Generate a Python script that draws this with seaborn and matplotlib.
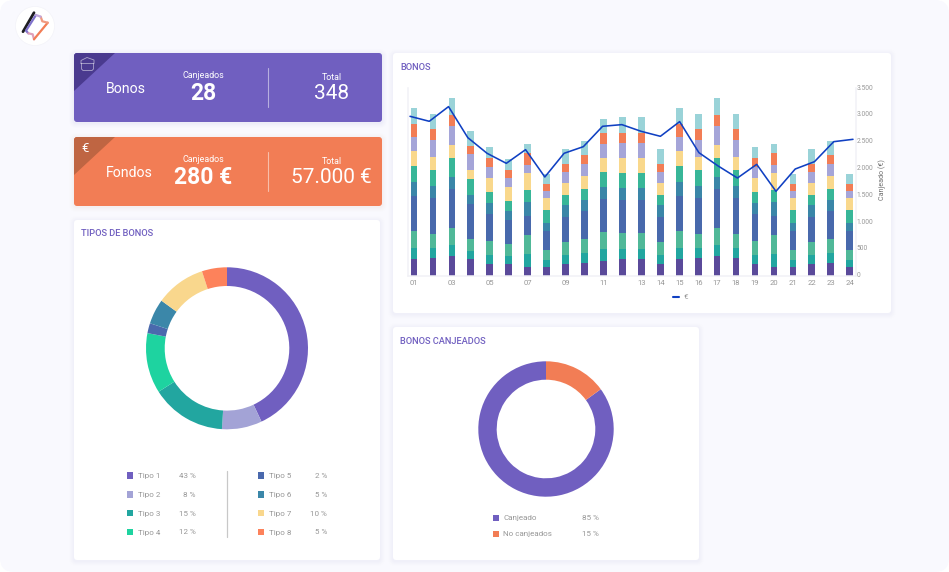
import matplotlib
matplotlib.use("Agg")
import matplotlib.pyplot as plt
from matplotlib.patches import FancyBboxPatch, Polygon, Rectangle, Circle
from matplotlib.transforms import ScaledTranslation
import pandas as pd
import seaborn as sns

sns.set_theme(style="white")
plt.rcParams["font.family"] = ["Roboto", "DejaVu Sans"]

W, H = 949, 572

# Stacked bar series, bottom to top
days = list(range(1, 25))
serie_a = [311,330,374,311,224,212,168,162,218,243,280,305,305,218,311,330,374,330,224,168,162,218,243,162]
serie_b = [212,181,206,150,168,156,237,131,168,174,218,193,193,168,212,181,206,181,168,237,131,168,174,131]
serie_c = [311,268,318,224,255,224,361,187,243,268,324,299,299,243,311,268,318,268,255,361,187,243,268,187]
serie_d = [648,679,716,654,505,449,349,349,461,530,610,617,617,461,648,679,716,679,505,349,349,461,530,349]
serie_e = [268,206,218,168,206,168,262,162,224,193,224,224,224,224,268,206,218,206,206,262,162,224,193,162]
serie_f = [299,311,368,299,206,187,224,237,193,218,274,280,280,193,299,311,368,311,206,224,237,193,218,237]
serie_g = [268,243,243,168,262,262,318,212,224,237,268,274,274,224,268,243,243,243,262,318,212,224,237,212]
serie_h = [274,311,349,293,206,168,137,143,199,212,262,274,274,199,274,311,349,311,206,137,143,199,212,143]
serie_i = [243,212,206,143,168,150,237,118,156,181,206,193,193,156,243,212,206,212,168,237,118,156,181,118]
serie_j = [293,280,324,293,199,199,156,193,280,255,262,299,299,280,293,280,324,280,199,156,193,280,255,193]
euros = [2973,2880,3154,2575,2283,2096,2351,1841,2283,2407,2787,2818,2693,2600,2874,2295,2046,1822,2077,1574,1990,2127,2500,2544]

x_tick_days = [1,3,5,7,9,11,13,14,15,16,17,18,19,20,21,22,23,24]
x_tick_labels = ["01","03","05","07","09","11","13","14","15","16","17","18","19","20","21","22","23","24"]
y_ticks = [0,500,1000,1500,2000,2500,3000,3500]
y_tick_labels = ["0","500","1.000","1.500","2.000","2.500","3.000","3.500"]

bar_colors = ["#5a4a9a","#22a6a0","#50b898","#4869ac","#3a86a8","#38b698","#f9d88c","#a5a5d8","#f27d55","#9ad3d8"]

tipo_names = ["Tipo 1","Tipo 2","Tipo 3","Tipo 4","Tipo 5","Tipo 6","Tipo 7","Tipo 8"]
tipo_shares = [43,8,15,12,2,5,10,5]
tipo_colors = ["#705fc0","#a3a3d6","#22a6a0","#1ed3a0","#4a69ad","#3b87a9","#f9d78d","#fd825b"]

canje_names = ["Canjeado","No canjeados"]
canje_shares = [85,15]
canje_colors = ["#705fc0","#f27d55"]

PURPLE = "#705fc0"
ORANGE = "#f27d55"
GREY = "#979797"

fig = plt.figure(figsize=(W/100, H/100), dpi=100, facecolor="white")


def px_axes(x0, y0, x1, y1, **kw):
    """Axes placed by pixel box, with y measured from the top edge."""
    return fig.add_axes([x0/W, 1-y1/H, (x1-x0)/W, (y1-y0)/H], **kw)


# Page layer in pixel coordinates
page = fig.add_axes([0, 0, 1, 1])
page.set_xlim(0, W)
page.set_ylim(H, 0)
page.axis("off")
page.add_patch(FancyBboxPatch((0, 0), W, H, boxstyle="round,pad=0,rounding_size=14",
                              fc="#f9f9fe", ec="none"))


def card(x0, y0, x1, y1, color="white", shadow="#9a9ad0"):
    for grow, a in [(5, .008), (4, .01), (3, .012), (2, .016), (1, .02)]:
        page.add_patch(FancyBboxPatch((x0-grow, y0-grow+1), x1-x0+2*grow, y1-y0+2*grow,
                                      boxstyle=f"round,pad=0,rounding_size={3+grow}",
                                      fc=shadow, ec="none", alpha=a))
    p = FancyBboxPatch((x0, y0), x1-x0, y1-y0, boxstyle="round,pad=0,rounding_size=3",
                       fc=color, ec="none")
    page.add_patch(p)
    return p


def text(x, y, s, size, color="white", ha="left", weight="normal", **kw):
    page.text(x, y, s, fontsize=size, color=color, ha=ha, va="center_baseline", fontweight=weight, **kw)


# Summary cards
for top, col, dark, name, used, total in [
        (53, PURPLE, "#4a3a8f", "Bonos", "28", "348"),
        (137, ORANGE, "#bf6542", "Fondos", "280 €", "57.000 €")]:
    box = card(74, top, 382, top+69, col, shadow=col)
    tri = Polygon([(74, top), (115, top), (74, top+38)], closed=True, fc=dark, ec="none")
    page.add_patch(tri)
    tri.set_clip_path(box)
    text(105.5, top+34.3, name, 10.2)
    text(203.5, top+21, "Canjeados", 6.4, ha="center")
    text(203.5, top+37.8, used, 16.5, ha="center", weight="bold")
    text(331.5, top+23, "Total", 6.4, ha="center")
    text(331.5, top+38.3, total, 15, ha="center")
    page.plot([268, 268], [top+15, top+54], color="white", alpha=.5, lw=.8)

# Corner glyphs of the summary cards
page.plot([81, 81, 87, 94, 94, 81], [63.5, 60.5, 57.5, 60, 63.5, 63.5], color="white", alpha=.55, lw=.6)
page.plot([81.5, 81.5, 83, 92, 93.5, 93.5], [63.5, 69, 70.5, 70.5, 69, 63.5], color="white", alpha=.55, lw=.6)
text(85.5, 147, "€", 9.5, ha="center")

# Brand mark
page.add_patch(Circle((35, 26), 19.5, fc="white", ec="#f1f1f8", lw=.4))
page.plot([23, 34], [31.7, 12.7], color="#1d1d22", lw=2, solid_capstyle="round")
page.plot([36, 26, 28.3], [15, 30.7, 33.3], color="#7f72cc", lw=1.6)
page.plot([28.3, 32.7, 34], [33.3, 34.3, 39.3], color="#e0a0b8", lw=1.6)
page.plot([34, 47.7], [39.3, 22.7], color="#f27d55", lw=1.6)
page.plot([47.7, 42.3, 40.7], [22.7, 21.3, 16.7], color="#f09a80", lw=1.6)
page.plot([40.7, 36], [16.7, 15], color="#c0a8dc", lw=1.6)

# White panels and their headings
card(74, 220, 380, 560)
card(393, 53, 891, 313)
card(393, 327, 699, 560)
text(81.5, 233, "TIPOS DE BONOS", 6.7, PURPLE, weight="medium")
text(400.5, 66.5, "BONOS", 6.7, PURPLE, weight="medium")
text(400.5, 340, "BONOS CANJEADOS", 6.7, PURPLE, weight="medium")

# Stacked bars
hue_levels = [f"s{i}" for i in range(10)]
series = [serie_a, serie_b, serie_c, serie_d, serie_e, serie_f, serie_g, serie_h, serie_i, serie_j]
df = pd.DataFrame([
    {"day": d, "serie": lvl, "value": v}
    for lvl, vals in zip(hue_levels, series) for d, v in zip(days, vals)
])
AX_BOX = (407.7, 88.07, 856, 275.67)
ax = px_axes(*AX_BOX)
ax.patch.set_alpha(0)
sns.histplot(df, x="day", weights="value", hue="serie", hue_order=hue_levels[::-1],
             palette=dict(zip(hue_levels, bar_colors)), multiple="stack", discrete=True,
             shrink=0.355, linewidth=0, alpha=1, legend=False, ax=ax)
ax.set_xlim(0.667, 24.333)
ax.set_ylim(0, 3500)
ax.set_xlabel("")
ax.set_ylabel("")
ax.set_xticks(x_tick_days, x_tick_labels)
ax.set_yticks([])
ax.tick_params(axis="x", length=0, pad=3.2, labelsize=5.5, labelcolor=GREY)
for s in ["top", "right"]:
    ax.spines[s].set_visible(False)
for s in ["left", "bottom"]:
    ax.spines[s].set_color("#f1f1f6")
    ax.spines[s].set_linewidth(1.1)

# Euro line on its own axes, which runs a little wider than the bars
lx = px_axes(*AX_BOX)
lx.patch.set_alpha(0)
sns.lineplot(x=days, y=euros, color="#1040c2", lw=1.15, ax=lx)
lx.set_xlim(0.88, 24.156)
lx.set_ylim(0, 3500)
lx.set_xticks([])
lx.yaxis.tick_right()
lx.set_yticks(y_ticks, y_tick_labels)
lx.tick_params(axis="y", length=0, pad=0.4, labelsize=4.8, labelcolor=GREY)
up = ScaledTranslation(0, 0.01, fig.dpi_scale_trans)
for lab in lx.get_yticklabels():
    lab.set_transform(lab.get_transform() + up)
for s in ["top", "left", "bottom"]:
    lx.spines[s].set_visible(False)
lx.spines["right"].set_color("#f1f1f6")
lx.spines["right"].set_linewidth(1.1)
lx.grid(False)
page.text(881.7, 180, "Canjeado (€)", fontsize=5.1, color="#6f6f6f", rotation=90, ha="center", va="center")
page.plot([672.7, 679.3], [296.7, 296.7], color="#1040c2", lw=1.5)
text(684, 296.7, "€", 5.8, GREY)


def donut(cx, cy, r_out, r_in, shares, colors, start):
    a = px_axes(cx-r_out, cy-r_out, cx+r_out, cy+r_out)
    a.pie(shares, colors=colors, startangle=start, counterclock=False, radius=1,
          wedgeprops={"width": 1-r_in/r_out, "linewidth": 0})
    a.set_xlim(-1, 1)
    a.set_ylim(-1, 1)
    for w in a.patches:
        w.set_clip_on(False)


donut(227, 348.3, 81, 62.3, tipo_shares, tipo_colors, 90)
donut(546, 429, 67.7, 49.3, canje_shares, canje_colors, 90 - 360*canje_shares[1]/100)


def legend_row(sw_x, sw, txt_x, pct_x, y, name, pct, color, size):
    page.add_patch(Rectangle((sw_x, y-sw/2), sw, sw, fc=color, ec="none"))
    text(txt_x, y, name, size, GREY)
    text(pct_x, y, f"{pct} %", size, GREY, ha="right")


rows = [475.7, 494.4, 513.1, 532]
for i in range(4):
    legend_row(126.7, 6.6, 137.7, 196, rows[i], tipo_names[i], tipo_shares[i], tipo_colors[i], 5.8)
    legend_row(257.7, 6.6, 268.7, 327, rows[i], tipo_names[i+4], tipo_shares[i+4], tipo_colors[i+4], 5.8)
page.plot([226.7, 226.7], [471, 536.7], color="#c8c8c8", lw=.9)

for i, y in enumerate([517.7, 533.7]):
    legend_row(492.7, 6, 503.3, 599, y, canje_names[i], canje_shares[i], canje_colors[i], 5.8)

fig.savefig("out.png", dpi=100, facecolor="white")
